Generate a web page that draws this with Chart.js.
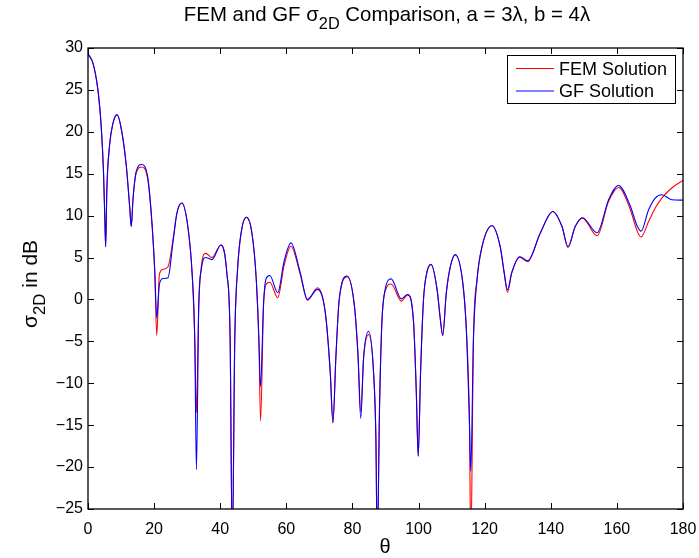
<!DOCTYPE html>
<html><head><meta charset="utf-8">
<script src="https://cdn.jsdelivr.net/npm/chart.js@4.4.1/dist/chart.umd.min.js"></script>
<style>
html,body{margin:0;padding:0;background:#fff;}
#wrap{position:relative;width:699px;height:558px;font-family:"Liberation Sans",Arial,Helvetica,sans-serif;color:#000;overflow:hidden;}
#c{position:absolute;left:0;top:0;}
.title{position:absolute;left:0;width:774px;top:2px;text-align:center;font-size:20.4px;white-space:nowrap;line-height:24px;}
sub{font-size:0.8em;vertical-align:-0.5em;line-height:0;}
.ylab{position:absolute;left:30px;top:284px;transform:translate(-50%,-50%) rotate(-90deg);font-size:21px;white-space:nowrap;line-height:24px;}
.xlab{position:absolute;left:385px;top:546px;transform:translate(-50%,-50%);font-size:20px;white-space:nowrap;}
.legend{position:absolute;left:507px;top:55px;width:169px;height:49px;border:1px solid #000;background:transparent;font-size:18px;box-sizing:border-box;}
.row{position:absolute;left:0;height:22px;line-height:22px;white-space:nowrap;}
.lt{position:absolute;left:51px;}
</style></head>
<body>
<div id="wrap">
<canvas id="c" width="699" height="558"></canvas>
<div class="title">FEM and GF σ<sub>2D</sub> Comparison, a = 3λ, b = 4λ</div>
<div class="ylab">σ<sub>2D</sub> in dB</div>
<div class="xlab">θ</div>
<div class="legend">
  <div class="row" style="top:2px;width:100%"><span class="lt">FEM Solution</span></div>
  <div class="row" style="top:24px;width:100%"><span class="lt">GF Solution</span></div>
</div>
</div>
<script>
// angles in degrees
const theta = [0,1.5,3.0,4.0,4.7,5.1,5.35,5.7,6.5,7.55,8.8,10.1,11.6,12.6,13.1,13.6,14.6,16.2,18.1,19.4,20.2,20.8,21.6,22.7,24.2,25.7,26.9,28.4,30.2,31.5,32.3,32.8,33.5,34.3,35.6,37.5,40.2,42.0,43.0,43.65,44.4,45.3,46.3,47.9,49.6,50.9,51.7,52.2,53.1,53.9,55.0,57.4,59.3,61.4,64.2,66.4,69.4,71.8,73.3,74.1,75.0,76.0,78.4,80.6,81.7,82.5,83.4,84.9,86.4,87.1,87.5,88.2,88.9,89.9,91.7,94.8,96.7,98.5,99.3,99.9,100.6,101.5,102.5,103.8,105.6,106.6,107.3,108.4,109.6,111.1,113.6,114.6,115.4,115.8,116.6,117.7,119.2,122.2,124.7,125.9,126.9,128.2,130.6,133.0,136.8,140.6,143.4,145.2,147.4,149.6,154.0,157.5,160.5,164.0,166.1,167.3,169.6,171.6,173.6,176.6,180];
const femSolution = [29.3,28.2,25.0,20.6,15.1,9.5,6.3,13.1,18.3,21.0,22.0,20.3,15.9,11.1,8.7,11.9,15.1,15.8,14.3,8.7,3.2,-4.3,3.0,3.6,3.9,7.1,10.3,11.5,8.7,3.1,-4.8,-13.5,-0.8,4.0,5.5,5.0,6.5,3.15,-4.8,-30,-4.8,3.9,7.9,9.8,7.9,2.4,-4.8,-14.5,-0.8,1.8,2.05,0.2,4.0,6.35,3.0,-0.1,1.4,-1.6,-8.8,-14.7,-6.8,0.0,2.7,-0.8,-6.8,-13.4,-6.8,-4.2,-8.8,-16.7,-30,-12.8,-2.8,1.0,1.85,-0.2,0.55,-2.8,-10.8,-18.7,-8.8,0.0,3.2,4.15,1.2,-2.4,-4.3,0.8,3.9,5.3,1.2,-4.8,-14.7,-30,-4.8,2.4,6.3,8.8,6.3,3.2,0.85,3.2,5.05,4.5,7.9,10.5,8.7,6.2,8.7,9.7,7.6,11.7,13.35,10.8,8.2,7.45,9.3,10.9,12.1,13.3,14.2];
const gfSolution = [29.3,28.2,25.0,20.6,15.1,9.5,6.3,13.1,18.3,21.0,22.05,20.3,15.9,11.1,8.7,11.9,15.3,16.1,14.5,8.9,3.4,-2.2,1.8,2.5,2.6,6.8,10.3,11.5,8.7,3.1,-4.8,-20.3,-0.8,3.6,5.0,4.75,6.5,3.15,-4.8,-30,-4.8,3.9,7.9,9.8,7.9,2.4,-4.8,-10.4,-0.5,2.5,2.85,0.8,4.5,6.75,3.2,0.0,1.2,-1.6,-8.8,-14.7,-6.8,0.0,2.8,-0.8,-6.8,-14.2,-6.8,-3.8,-8.8,-16.7,-30,-12.8,-2.8,1.2,2.45,0.07,0.6,-2.8,-10.8,-18.7,-8.8,0.0,3.2,4.2,1.2,-2.4,-4.3,0.8,3.9,5.35,1.2,-4.8,-14.7,-20.5,-4.8,2.4,6.3,8.8,6.3,3.2,1.15,3.2,5.1,4.6,7.9,10.5,8.7,6.3,8.7,9.75,7.95,11.9,13.6,11.2,8.8,8.15,10.7,12.1,12.5,11.9,11.85];
const xTicks = [0,20,40,60,80,100,120,140,160,180];
const yTicks = [-25,-20,-15,-10,-5,0,5,10,15,20,25,30];

const pts = arr => theta.map((t,i)=>({x:t,y:arr[i]}));

const innerTicks = {
  id:'innerTicks',
  afterDraw(chart){
    const {ctx, chartArea:a, scales:{x,y}} = chart;
    ctx.save();
    ctx.strokeStyle='#000'; ctx.lineWidth=1;
    ctx.beginPath();
    xTicks.forEach(v=>{const px=Math.round(x.getPixelForValue(v))+0.5;
      ctx.moveTo(px,a.bottom); ctx.lineTo(px,a.bottom-6);
      ctx.moveTo(px,a.top); ctx.lineTo(px,a.top+6);});
    yTicks.forEach(v=>{const py=Math.round(y.getPixelForValue(v))+0.5;
      ctx.moveTo(a.left,py); ctx.lineTo(a.left+6,py);
      ctx.moveTo(a.right,py); ctx.lineTo(a.right-6,py);});
    ctx.stroke();
    ctx.lineWidth=1.3;
    ctx.strokeRect(a.left,a.top,a.right-a.left,a.bottom-a.top);
    // legend swatches
    ctx.lineWidth=1.1;
    chart.data.datasets.forEach((ds,i)=>{
      ctx.strokeStyle=ds.borderColor;
      ctx.beginPath();
      const yy=68.5+i*22.5;
      ctx.moveTo(516,yy); ctx.lineTo(554,yy); ctx.stroke();
    });
    ctx.restore();
  }
};

new Chart(document.getElementById('c'),{
  type:'line',
  data:{datasets:[
    {label:'FEM Solution',data:pts(femSolution),borderColor:'#ff0000',borderWidth:1.1,pointRadius:0,cubicInterpolationMode:'monotone',order:1},
    {label:'GF Solution',data:pts(gfSolution),borderColor:'#0000ff',borderWidth:1.1,pointRadius:0,cubicInterpolationMode:'monotone',order:0}
  ]},
  options:{
    responsive:false,animation:false,devicePixelRatio:1,
    layout:{padding:{left:0,top:48,right:16,bottom:0}},
    plugins:{legend:{display:false},title:{display:false},tooltip:{enabled:false}},
    scales:{
      x:{type:'linear',min:0,max:180,
        afterBuildTicks(s){s.ticks=xTicks.map(v=>({value:v}));},
        afterFit(s){s.height=49;s.paddingLeft=0;s.paddingRight=0;},
        grid:{display:false,drawTicks:false},border:{display:false},
        ticks:{color:'#000',padding:11,maxRotation:0,font:{family:'"Liberation Sans", Arial, sans-serif',size:16}}},
      y:{type:'linear',min:-25,max:30,
        afterBuildTicks(s){s.ticks=yTicks.map(v=>({value:v}));},
        afterFit(s){s.width=88;s.paddingTop=0;s.paddingBottom=0;},
        grid:{display:false,drawTicks:false},border:{display:false},
        ticks:{color:'#000',padding:5,font:{family:'"Liberation Sans", Arial, sans-serif',size:16},
          callback:v=>String(v).replace('-','\u2212')}}
    }
  },
  plugins:[innerTicks]
});
</script>
</body></html>
